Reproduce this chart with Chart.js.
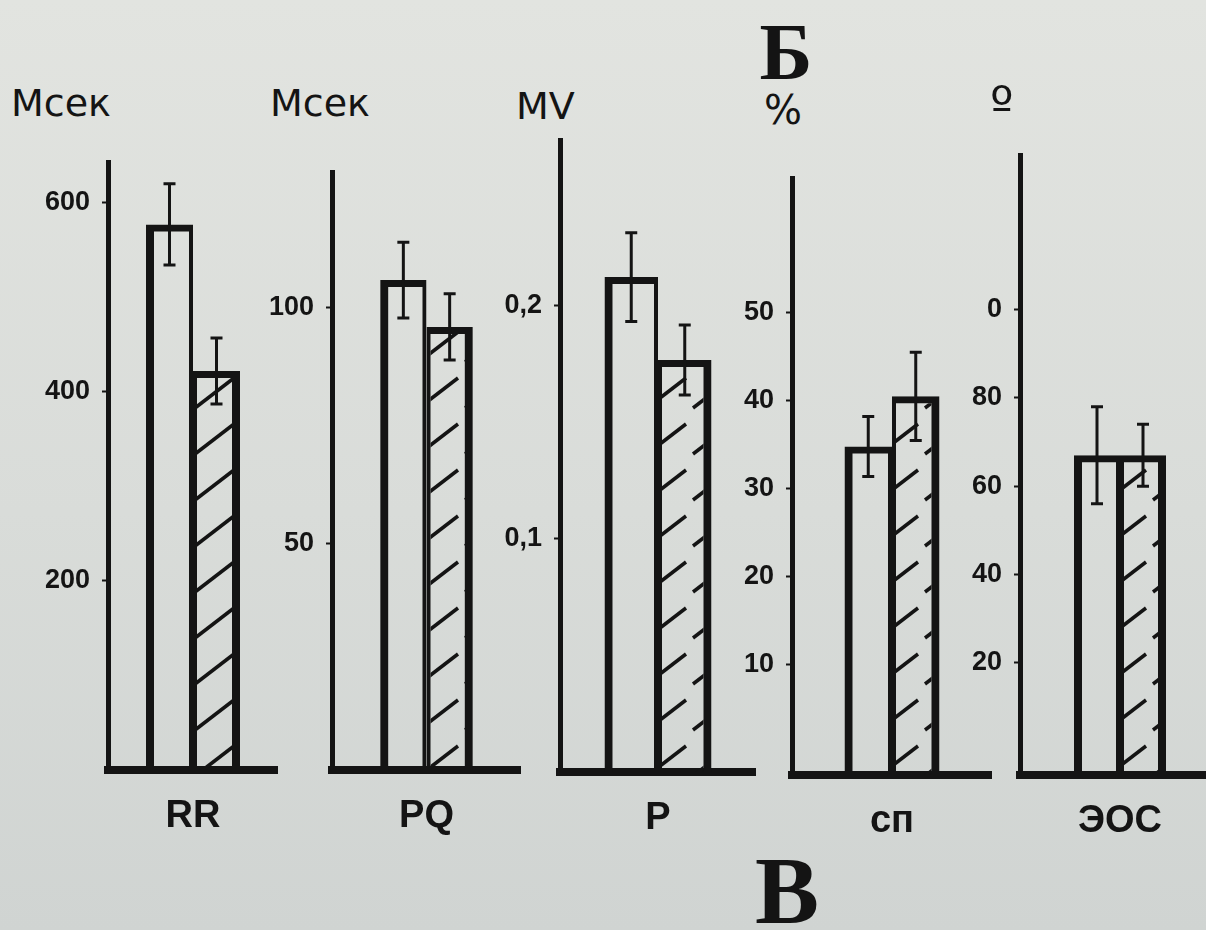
<!DOCTYPE html>
<html>
<head>
<meta charset="UTF-8">
<title>ЭКГ показатели</title>
<script src="https://cdn.jsdelivr.net/npm/chart.js@4.4.0/dist/chart.umd.min.js"></script>
<style>
  html, body { margin: 0; padding: 0; overflow: hidden; }
  body {
    width: 1206px; height: 930px; position: relative;
    background: linear-gradient(180deg, #e2e4e0 0%, #d9dcd9 55%, #d0d4d2 100%);
    font-family: 'DejaVu Sans Condensed', 'Liberation Sans Narrow', 'DejaVu Sans', sans-serif;
    color: #141414;
  }
  canvas { position: absolute; top: 0; }
  .letter {
    position: absolute; font-family: 'Liberation Serif', 'DejaVu Serif', serif;
    font-weight: bold; transform: translateX(-50%); line-height: 1;
  }
  .unit { position: absolute; line-height: 1; font-family: 'DejaVu Sans', sans-serif; }
</style>
</head>
<body>
<div class="letter" style="left:786px; top:12px; font-size:80px;">Б</div>
<div class="letter" style="left:787px; top:843px; font-size:96px;">В</div>
<div id="units"></div>

<script>
// data: white bar = first group, hatched bar = second group
const categories = ['RR', 'PQ', 'P', 'сп', 'ЭОС'];
const units = ['Мсек', 'Мсек', 'MV', '%', 'º'];
const whiteValues = [577, 105.7, 0.212, 34.8, 67];
const whiteErrors = [43, 8, 0.019, 3.4, 11];
const hatchValues = [422, 95.8, 0.1765, 40.5, 67];
const hatchErrors = [35, 7, 0.015, 5, 7];
const tickValues = [[200, 400, 600], [50, 100], [0.1, 0.2], [10, 20, 30, 40, 50], [20, 40, 60, 80, 100]];
const tickLabels = [['200', '400', '600'], ['50', '100'], ['0,1', '0,2'], ['10', '20', '30', '40', '50'], ['20', '40', '60', '80', '0']];
const axisMin = [0, 2.3, 0, -2.5, -5.4];
const axisMax = [643, 128.5, 0.2707, 65.3, 135];

// panel placement on the page
const axisX = [108, 332, 560, 792, 1020];
const axisTop = [162, 172, 140, 178, 155];
const baseY = [770, 770, 772, 775, 775];
const plotRight = [278, 521, 756, 992, 1220];
const barFraction = [0.553, 0.49, 0.546, 0.475, 0.46];
const unitPos = [[11, 84, 38], [270, 84, 38], [516, 87, 38], [764, 90, 40], [990, 80, 50]];

const ink = '#141414';
const yAxisW = 100;

// sparse "/" hatching like the print
function makeHatch() {
  const c = document.createElement('canvas');
  c.width = 46; c.height = 46;
  const g = c.getContext('2d');
  g.strokeStyle = ink;
  g.lineWidth = 3.5;
  g.lineCap = 'butt';
  g.beginPath();
  g.moveTo(3, 40);
  g.lineTo(42, 10);
  g.stroke();
  return g.createPattern(c, 'repeat');
}
const hatch = makeHatch();

const errorBars = {
  id: 'errorBars',
  afterDatasetsDraw(chart) {
    const ctx = chart.ctx;
    const y = chart.scales.y;
    ctx.save();
    ctx.strokeStyle = ink;
    ctx.lineWidth = 3;
    chart.data.datasets.forEach((ds, i) => {
      const bar = chart.getDatasetMeta(i).data[0];
      const v = ds.data[0], e = ds.err;
      const yTop = y.getPixelForValue(v + e);
      const yBot = y.getPixelForValue(v - e);
      ctx.beginPath();
      ctx.moveTo(bar.x, yTop); ctx.lineTo(bar.x, yBot);
      ctx.moveTo(bar.x - 6, yTop); ctx.lineTo(bar.x + 6, yTop);
      ctx.moveTo(bar.x - 6, yBot); ctx.lineTo(bar.x + 6, yBot);
      ctx.stroke();
    });
    ctx.restore();
  }
};

const unitsBox = document.getElementById('units');
categories.forEach((cat, i) => {
  const u = document.createElement('div');
  u.className = 'unit';
  u.style.left = unitPos[i][0] + 'px';
  u.style.top = unitPos[i][1] + 'px';
  u.style.fontSize = unitPos[i][2] + 'px';
  u.textContent = units[i];
  unitsBox.appendChild(u);

  const cv = document.createElement('canvas');
  const w = plotRight[i] - axisX[i] + yAxisW;
  cv.width = w; cv.height = 930;
  cv.style.left = (axisX[i] - yAxisW) + 'px';
  cv.style.width = w + 'px'; cv.style.height = '930px';
  document.body.appendChild(cv);

  new Chart(cv, {
    type: 'bar',
    data: {
      labels: [cat],
      datasets: [
        { data: [whiteValues[i]], err: whiteErrors[i], backgroundColor: 'rgba(0,0,0,0)',
          borderWidth: { top: 7, left: 8, right: 4, bottom: 0 } },
        { data: [hatchValues[i]], err: hatchErrors[i], backgroundColor: hatch,
          borderWidth: { top: 7, left: 4, right: 8, bottom: 0 } }
      ]
    },
    options: {
      responsive: false,
      animation: false,
      devicePixelRatio: 1,
      layout: { padding: { top: axisTop[i], left: 0, right: 0, bottom: 0 } },
      plugins: { legend: { display: false }, tooltip: { enabled: false }, title: { display: false } },
      datasets: {
        bar: {
          base: axisMin[i],
          borderColor: ink,
          borderSkipped: false,
          categoryPercentage: barFraction[i],
          barPercentage: 1
        }
      },
      scales: {
        x: {
          grid: { display: false },
          border: { display: true, color: ink, width: 8 },
          ticks: { color: ink, padding: 16, font: { size: 38, weight: 'bold' } },
          afterFit(s) { s.height = 930 - baseY[i]; }
        },
        y: {
          min: axisMin[i],
          max: axisMax[i],
          grid: { display: true, drawOnChartArea: false, drawTicks: true, tickLength: 6, tickWidth: 2, tickColor: ink },
          border: { display: true, color: ink, width: 5 },
          afterBuildTicks(s) { s.ticks = tickValues[i].map(v => ({ value: v })); },
          ticks: {
            color: ink, padding: 12, autoSkip: false,
            font: { size: 27, weight: 'bold' },
            callback(value) {
              const k = tickValues[i].indexOf(value);
              return k >= 0 ? tickLabels[i][k] : '';
            }
          },
          afterFit(s) { s.width = yAxisW; }
        }
      }
    },
    plugins: [errorBars]
  });
});
</script>
</body>
</html>
